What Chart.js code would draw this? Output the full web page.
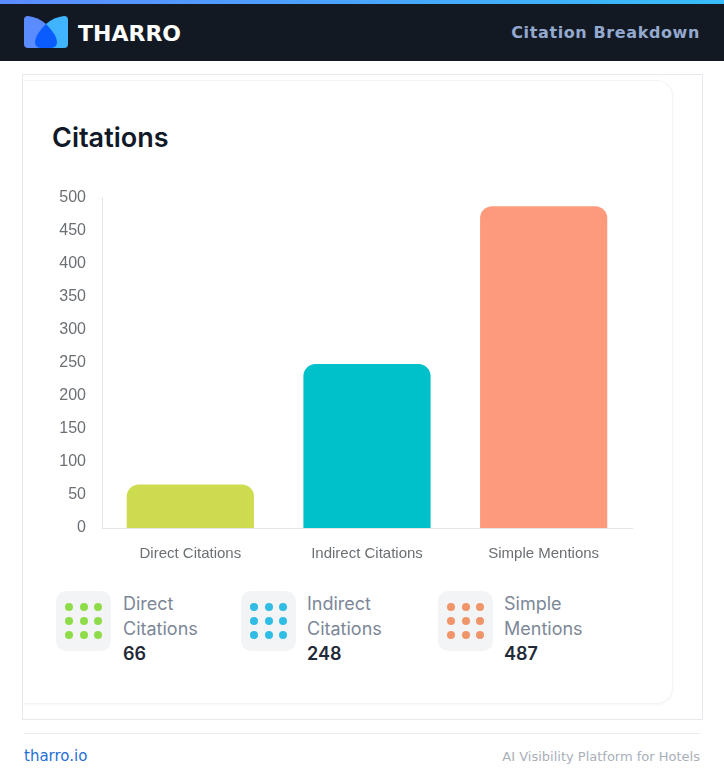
<!DOCTYPE html>
<html>
<head>
<meta charset="utf-8">
<script src="https://cdn.jsdelivr.net/npm/chart.js@4"></script>
<style>
html,body{margin:0;padding:0;background:#fff;width:724px;height:777px;overflow:hidden}
#page{position:relative;width:724px;height:777px;overflow:hidden;font-family:"DejaVu Sans",sans-serif}
.abs{position:absolute}
#topbar{left:0;top:0;width:724px;height:4px;background:linear-gradient(90deg,#5b8cff,#38bdf8)}
#head{left:0;top:4px;width:724px;height:57px;background:#131923}
#brand{left:78px;top:20px;font:700 22px/28px "DejaVu Sans";color:#fff;letter-spacing:0}
#sub{right:24px;top:23px;font:700 16px/20px "DejaVu Sans";color:#94a9cf;letter-spacing:.61px}
#frame{left:22px;top:74px;width:679px;height:644px;border:1px solid #e6eaee}
#card{left:23px;top:80px;width:650px;height:624px;box-sizing:border-box;border:1px solid #f3f4f6;border-left:0;border-radius:0 16px 16px 0;background:#fff;box-shadow:0 1px 3px rgba(0,0,0,.04)}
#title{left:52px;top:121px;font:600 27px/33px Inter;color:#111827}
#cv{left:40px;top:172px}
.ic{width:55px;height:60px;top:591px;border-radius:10px;background:#f3f4f6;display:grid;grid-template-columns:repeat(3,8px);grid-auto-rows:8px;gap:6.3px;justify-content:center;align-content:center}
.ic i{border-radius:50%;display:block;background:var(--c)}
.lb{top:591px;font:400 18px/25px Inter;color:#7d8798}
.val{top:641px;font:600 18px/25px Inter;color:#1f2937}
#rule{left:24px;top:733px;width:676px;height:1px;background:#e8ebef}
#link{left:24px;top:747px;font:400 15px/18px "DejaVu Sans";color:#1f6fd6}
#tag{right:24px;top:748px;font:400 13px/17px "DejaVu Sans";color:#a9afb8}
</style>
</head>
<body>
<div id="page">
<div class="abs" id="topbar"></div>
<div class="abs" id="head"></div>
<svg class="abs" style="left:24px;top:16px" width="44" height="32" viewBox="0 0 44 32">
<path d="M0 4Q0 0 4 0Q14 1 22 8L22 32H4Q0 32 0 28Z" fill="#5b8cff"/>
<path d="M44 4Q44 0 40 0Q30 1 22 8L22 32H40Q44 32 44 28Z" fill="#40b4ff"/>
<path d="M22 8Q33 19 33 26Q33 32 26 32H18Q11 32 11 26Q11 19 22 8Z" fill="#0a5cff"/>
</svg>
<div class="abs" id="brand">THARRO</div>
<div class="abs" id="sub">Citation Breakdown</div>
<div class="abs" id="frame"></div>
<div class="abs" id="card"></div>
<div class="abs" id="title">Citations</div>
<canvas class="abs" id="cv" width="620" height="409" style="width:620px;height:409px"></canvas>
<div id="legend"></div>
<div class="abs" id="rule"></div>
<div class="abs" id="link">tharro.io</div>
<div class="abs" id="tag">AI Visibility Platform for Hotels</div>
</div>
<script>
const categories = ["Direct Citations", "Indirect Citations", "Simple Mentions"];
const citationValues = [66, 248, 487];
const barColors = ["#cddc4f", "#00c1c9", "#fd9a7c"];
const dotColors = ["#8fdc4a", "#2fbde3", "#f0946a"];
const yTicks = [0, 50, 100, 150, 200, 250, 300, 350, 400, 450, 500];
const legendLines = [["Direct", "Citations"], ["Indirect", "Citations"], ["Simple", "Mentions"]];
const iconLefts = [56, 241, 438];
const textLefts = [123, 307, 504];

const legend = document.getElementById("legend");
categories.forEach((c, i) => {
  const ic = document.createElement("div");
  ic.className = "abs ic";
  ic.style.left = iconLefts[i] + "px";
  ic.style.setProperty("--c", dotColors[i]);
  for (let k = 0; k < 9; k++) ic.appendChild(document.createElement("i"));
  legend.appendChild(ic);
  const lb = document.createElement("div");
  lb.className = "abs lb";
  lb.style.left = textLefts[i] + "px";
  lb.innerHTML = legendLines[i].join("<br>");
  legend.appendChild(lb);
  const v = document.createElement("div");
  v.className = "abs val";
  v.style.left = textLefts[i] + "px";
  v.textContent = citationValues[i];
  legend.appendChild(v);
});

new Chart(document.getElementById("cv"), {
  type: "bar",
  data: {
    labels: categories,
    datasets: [{
      data: citationValues,
      backgroundColor: barColors,
      borderWidth: 0,
      borderRadius: { topLeft: 12, topRight: 12, bottomLeft: 0, bottomRight: 0 },
      borderSkipped: false,
      categoryPercentage: 0.8,
      barPercentage: 0.9
    }]
  },
  options: {
    responsive: false,
    animation: false,
    layout: { padding: { top: 8, right: 28, left: 0, bottom: 0 } },
    plugins: { legend: { display: false }, title: { display: false }, tooltip: { enabled: false } },
    scales: {
      x: {
        grid: { display: false, drawTicks: false },
        border: { color: "#e3e5e8", width: 1 },
        ticks: { color: "#6b7075", font: { family: "Liberation Sans", size: 15 }, padding: 17 },
        afterFit: s => { s.height = 53; }
      },
      y: {
        min: 0,
        max: 500,
        afterBuildTicks: s => { s.ticks = yTicks.map(v => ({ value: v })); },
        grid: { display: false, drawTicks: false },
        border: { color: "#e3e5e8", width: 1 },
        ticks: { color: "#6b7075", font: { family: "Liberation Sans", size: 16 }, padding: 16 },
        afterFit: s => { s.width = 62; }
      }
    }
  }
});
</script>
</body>
</html>
